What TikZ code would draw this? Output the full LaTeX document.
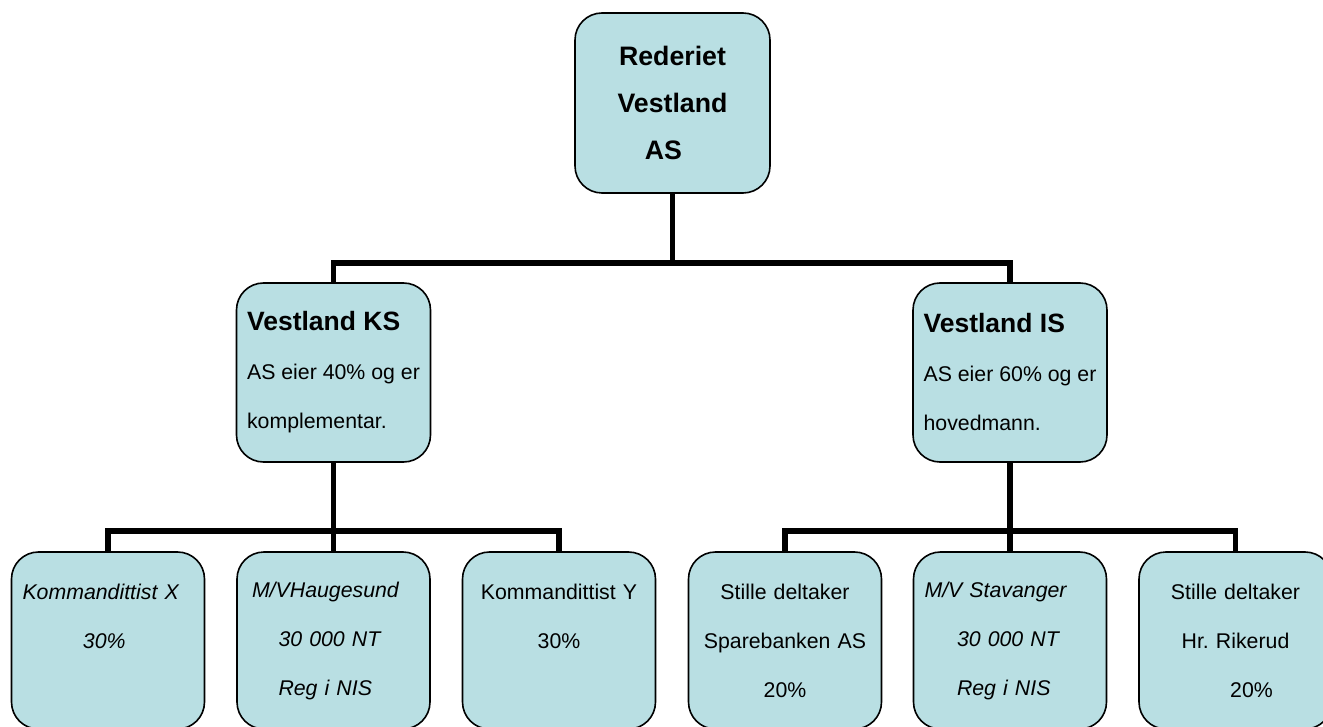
\documentclass[tikz,border=0pt]{standalone}
\usepackage{fontspec}
\setmainfont{Liberation Sans}
\usetikzlibrary{positioning}
\definecolor{boxblue}{RGB}{185,223,227}
\frenchspacing
\tikzset{
  orgbox/.style={
    draw,
    line width=1.6pt,
    fill=boxblue,
    rounded corners=27pt,
    minimum width=194pt,
    minimum height=179pt,
    inner sep=0pt
  },
  leafbox/.style={
    orgbox,
    minimum width=193pt,
    minimum height=177pt,
    text width=171pt,
    inner xsep=11pt,
    font=\fontsize{21.3}{49}\selectfont
  },
  leafit/.style={
    leafbox,
    font=\fontsize{21.3}{49}\selectfont\itshape
  },
  link/.style={
    line width=5.5pt
  }
}

\begin{document}
\begin{tikzpicture}[x=1pt, y=-1pt]
  \useasboundingbox (0,0) rectangle (1323,727);
  \clip (0,0) rectangle (1323,727);
  % top
  \node[orgbox, minimum width=195pt, minimum height=180pt, align=center,
        font=\bfseries\fontsize{26.7}{47}\selectfont] (rederiet) at (672.5,103)
    {Rederiet\\Vestland\\\hspace*{-18pt}AS};
  % middle
  \node[orgbox, align=left, font=\fontsize{21.3}{49}\selectfont] (vestlandks) at (333.5,372.5)
    {{\bfseries\fontsize{26.5}{49}\selectfont Vestland KS}\\AS eier 40\% og er\\komplementar.};
  \node[orgbox, align=left, font=\fontsize{21.3}{49}\selectfont] (vestlandis) at (1010,372.5)
    {{\bfseries\fontsize{26.5}{49}\selectfont Vestland IS}\\AS eier 60\% og er\\hovedmann.};
  % bottom
  \node[leafit, align=left] (kommx) at (108,640.5)
    {Kommandittist X\\\hspace*{60.5pt}30\%\\\mbox{}};
  \node[leafit, align=left] (haugesund) at (333.5,640.5)
    {\hspace*{4pt}M/VHaugesund\\\hspace*{30.5pt}30 000 NT\\\hspace*{30.5pt}Reg i NIS};
  \node[leafbox, align=center] (kommy) at (559,640.5)
    {Kommandittist Y\\30\%\\\mbox{}};
  \node[leafbox, align=center] (sparebanken) at (785,640.5)
    {Stille deltaker\\Sparebanken AS\\20\%};
  \node[leafit, align=left] (stavanger) at (1010,640.5)
    {M/V Stavanger\\\hspace*{32.5pt}30 000 NT\\\hspace*{32.5pt}Reg i NIS};
  \node[leafbox, align=center] (rikerud) at (1235.5,640.5)
    {Stille deltaker\\Hr. Rikerud\\\hspace*{32pt}20\%};
  % connectors
  \draw[link] (vestlandks.north) -- ++(0,-19) coordinate (topbus) -| (vestlandis.north);
  \draw[link] (rederiet.south) -- (rederiet.south |- topbus);
  \draw[link] (kommx.north) -- ++(0,-20) -| (kommy.north);
  \draw[link] (vestlandks.south) -- (haugesund.north);
  \draw[link] (sparebanken.north) -- ++(0,-20) -| (rikerud.north);
  \draw[link] (vestlandis.south) -- (stavanger.north);
\end{tikzpicture}
\end{document}
